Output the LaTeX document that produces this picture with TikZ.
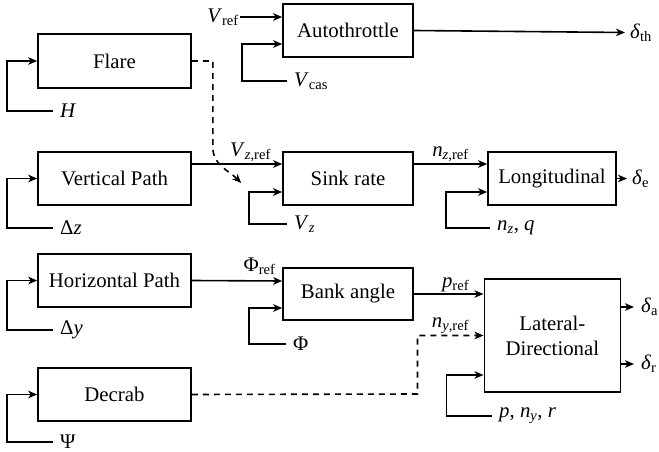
\documentclass[tikz,border=0pt]{standalone}
\usepackage{fontspec}
\setmainfont{Liberation Serif}
\usetikzlibrary{arrows.meta,calc}

% italic symbol with an optional subscript
\newcommand{\sym}[2]{\textit{#1}\textsubscript{#2}}

\tikzset{
  blk/.style={draw, line width=1.6pt, minimum height=53pt, inner sep=0pt, align=center},
  arr/.style={line width=1.6pt, -{Stealth[length=9pt,width=7.5pt,inset=2.5pt]}},
  dsh/.style={dash pattern=on 6pt off 5pt},
  fblab/.style={anchor=west, inner xsep=7pt, inner ysep=1pt},
  outlab/.style={anchor=west, inner xsep=5pt, inner ysep=1pt},
  lbl/.style={inner sep=1pt}
}

\begin{document}
\begin{tikzpicture}[x=1pt, y=-1pt, font=\fontsize{20.8}{25}\selectfont]
\useasboundingbox (0,0) rectangle (659,452);

% guidance blocks
\node[blk, minimum width=153pt, minimum height=54pt] (flare) at (114.5,61) {Flare};
\node[blk, minimum width=153pt] (vp) at (114.5,178.5) {Vertical Path};
\node[blk, minimum width=153pt] (hp) at (114.5,280.5) {Horizontal Path};
\node[blk, minimum width=153pt] (decrab) at (114.5,394.5) {Decrab};

% outer loops
\node[blk, minimum width=130pt] (auto) at (348,30.5) {Autothrottle};
\node[blk, minimum width=130pt] (sink) at (348,178.5) {Sink rate};
\node[blk, minimum width=130pt, minimum height=52pt] (bank) at (348,294) {Bank angle};

% inner loops
\node[blk, minimum width=128pt] (long) at (552,178.5) {Longitudinal};
\node[blk, minimum width=136pt, minimum height=113pt] (lat) at (552.3,335.5) {Lateral-\\Directional};

% feedback labels
\node[fblab] (hl) at (53,111) {\textit{H}};
\node[fblab] (dzl) at (53,228) {Δ\textit{z}};
\node[fblab] (dyl) at (53,330) {Δ\textit{y}};
\node[fblab] (psil) at (53,442) {Ψ};
\node[fblab] (vcasl) at (287,81) {\sym{V}{cas}};
\node[fblab] (vzl) at (287,224) {\sym{V}{\textit{z}}};
\node[fblab] (phil) at (286,344) {Φ};
\node[fblab] (nzql) at (490,228) {\sym{n}{\textit{z}}, \textit{q}};
\node[fblab] (pnrl) at (492,416) {\textit{p}, \sym{n}{\textit{y}}, \textit{r}};

% reference input
\node[lbl, anchor=east] (vrefl) at (240,17) {\sym{V}{ref}};

% outputs
\node[outlab] (dth) at (625,32.5) {\sym{δ}{th}};
\node[outlab] (de) at (627,178.5) {\sym{δ}{e}};
\node[outlab, inner xsep=7pt] (da) at (634,307) {\sym{δ}{a}};
\node[outlab, inner xsep=7pt] (dr) at (634,364) {\sym{δ}{r}};

% feedback loops
\draw[arr] (hl.west) -| ($(flare.west)+(-30,0)$) -- (flare.west);
\draw[arr] (dzl.west) -| ($(vp.west)+(-30,0)$) -- (vp.west);
\draw[arr] (dyl.west) -| ($(hp.west)+(-30,0)$) -- (hp.west);
\draw[arr] (psil.west) -| ($(decrab.west)+(-30,0)$) -- (decrab.west);
\draw[arr] (vcasl.west) -| ($(auto.west)+(-40,13.5)$) -- ($(auto.west)+(0,13.5)$);
\draw[arr] (vzl.west) -| ($(sink.west)+(-33,13.5)$) -- ($(sink.west)+(0,13.5)$);
\draw[arr] (phil.west) -| ($(bank.west)+(-33,14)$) -- ($(bank.west)+(0,14)$);
\draw[arr] (nzql.west) -| ($(long.west)+(-41,13.5)$) -- ($(long.west)+(0,13.5)$);
\draw[arr] (pnrl.west) -| ($(lat.west)+(-37,39.5)$) -- ($(lat.west)+(0,39.5)$);

% reference signals
\draw[arr] (vrefl.east) -- ($(auto.west)+(0,-13.5)$);
\draw[arr] ($(vp.east)+(0,-14.5)$) -- node[lbl, above, pos=0.65] {\sym{V}{\textit{z},ref}} ($(sink.west)+(0,-14.5)$);
\draw[arr] ($(sink.east)+(0,-14.5)$) -- node[lbl, above, pos=0.5] {\sym{n}{\textit{z},ref}} ($(long.west)+(0,-14.5)$);
\draw[arr] (hp.east) -- node[lbl, above, pos=0.75, yshift=4pt] {Φ\textsubscript{ref}} ($(bank.west)+(0,-13)$);
\draw[arr] (bank.east) -- node[lbl, above, pos=0.6] {\sym{p}{ref}} ($(lat.west)+(0,-41.5)$);
\coordinate (dcorner) at ($(lat.west)+(-66,58.5)$);
\draw[arr, dsh] (decrab.east) -- (dcorner) |- node[lbl, above, pos=0.75] {\sym{n}{\textit{y},ref}} (lat.west);

% flare hand-over
\coordinate (fturn) at ($(flare.east)+(21,0)$);
\draw[arr, dsh] (flare.east) -- (fturn) -- ($(fturn)+(0,86)$) to[out=-90, in=135] ($(sink.west)+(-41,4.5)$);

% control outputs
\draw[arr] (auto.east) -- (dth.west);
\draw[arr] (long.east) -- (de.west);
\draw[arr] ($(lat.east)+(0,-28.5)$) -- (da.west);
\draw[arr] ($(lat.east)+(0,28.5)$) -- (dr.west);
\end{tikzpicture}
\end{document}
